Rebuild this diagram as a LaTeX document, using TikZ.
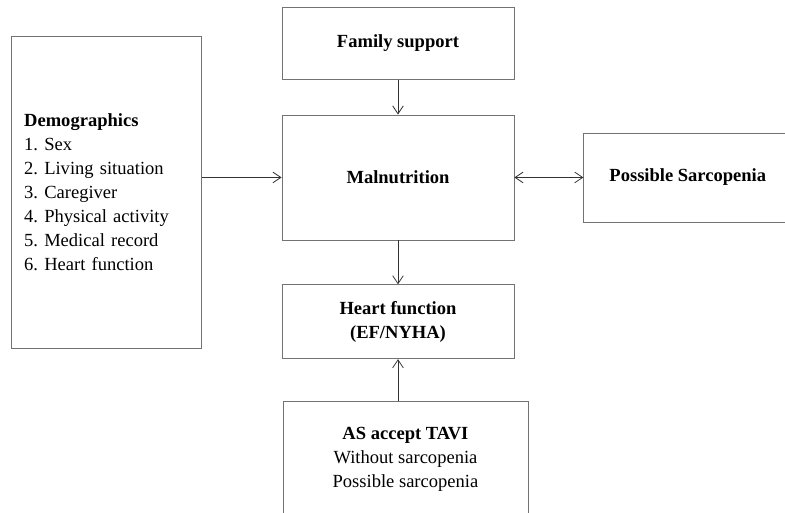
\documentclass[tikz,border=0pt]{standalone}
\usepackage{fontspec}
\setmainfont{Liberation Serif}
\usetikzlibrary{arrows.meta, positioning}

\begin{document}
\begin{tikzpicture}[
  box/.style={draw=black!55, line width=0.6pt, minimum width=174pt, align=center,
              font=\fontsize{13.9}{18}\selectfont\bfseries},
  list/.style={draw=black!55, line width=0.6pt, text width=123pt, inner xsep=9.75pt,
               minimum height=234pt, align=left, font=\fontsize{13.9}{18}\selectfont\frenchspacing},
  arr/.style={-{Straight Barb[length=6pt,width=8pt]}, line width=0.6pt, black!80},
  darr/.style={{Straight Barb[length=6pt,width=8pt]}-{Straight Barb[length=6pt,width=8pt]},
               line width=0.6pt, black!80}
]

\useasboundingbox (-298.5pt,133.1pt) rectangle (290.25pt,-251.6pt);
\clip (-298.5pt,133.1pt) rectangle (290.25pt,-251.6pt);

\node[box, minimum height=93.75pt] (mal) at (0,0) {Malnutrition};
\node[box, minimum height=54pt, above=26.25pt of mal] (fam) {Family support};
\node[box, minimum height=55.5pt, below=33pt of mal] (heart) {Heart function\\(EF/NYHA)};
\node[box, minimum width=183.75pt, minimum height=87pt, font=\fontsize{13.9}{18}\selectfont,
      below=31.5pt of heart, xshift=5.6pt] (tavi)
      {\textbf{AS accept TAVI}\\Without sarcopenia\\Possible sarcopenia};
\node[list, left=60pt of mal, yshift=-10.9pt] (demo)
      {\textbf{Demographics}\\1. Sex\\2. Living situation\\3. Caregiver\\4. Physical activity\\5. Medical record\\6. Heart function};
\node[box, minimum width=156pt, minimum height=66.75pt, right=51.75pt of mal] (sarc) {Possible Sarcopenia};

\draw[arr]  (fam) -- (mal);
\draw[arr]  (mal) -- (heart);
\draw[arr]  (tavi.north -| heart) -- (heart.south);
\draw[arr]  (demo.east |- mal) -- (mal.west);
\draw[darr] (mal) -- (sarc);

\end{tikzpicture}
\end{document}
